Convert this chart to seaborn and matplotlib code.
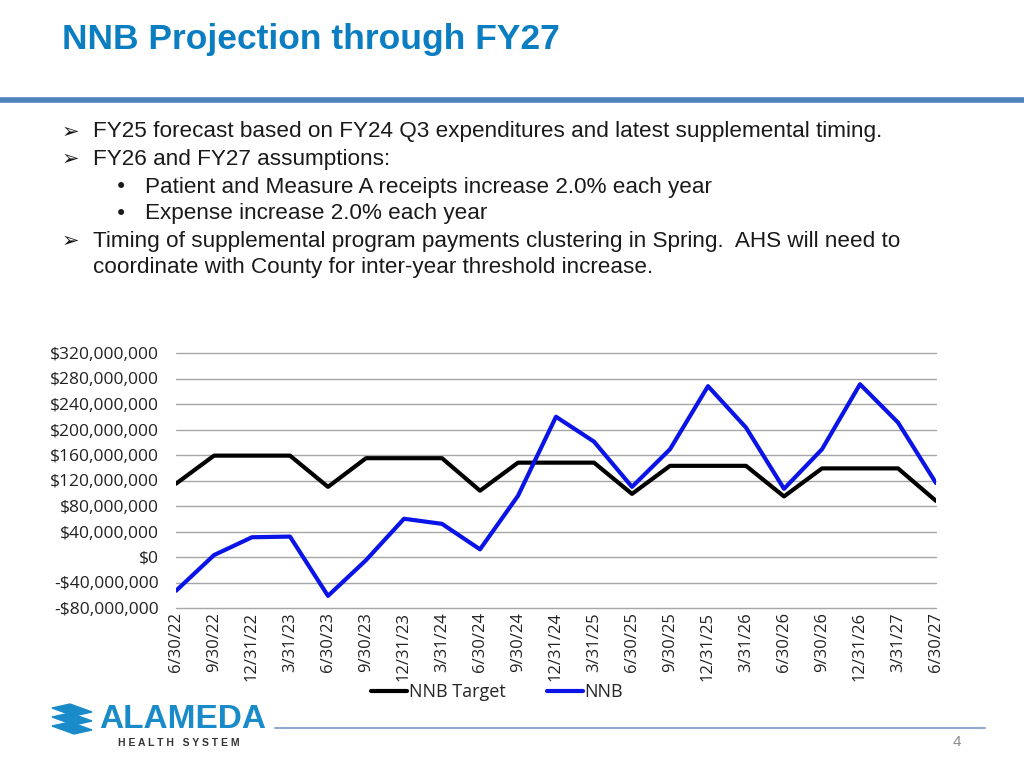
import pandas as pd
import seaborn as sns
import matplotlib.pyplot as plt
from matplotlib.ticker import FuncFormatter
from matplotlib.lines import Line2D
from matplotlib.patches import Polygon

# quarter-end dates on the x axis
dates = ["6/30/22", "9/30/22", "12/31/22", "3/31/23", "6/30/23", "9/30/23", "12/31/23",
         "3/31/24", "6/30/24", "9/30/24", "12/31/24", "3/31/25", "6/30/25", "9/30/25",
         "12/31/25", "3/31/26", "6/30/26", "9/30/26", "12/31/26", "3/31/27", "6/30/27"]

# values, in $ millions
nnb_target = [115, 159, 159, 159, 110, 155, 155, 155, 104, 148, 148, 148,
              99, 143, 143, 143, 95, 139, 139, 139, 88]
nnb = [-53, 3, 31, 32, -61, -5, 60, 52, 12, 96, 220, 181,
       110, 169, 268, 203, 107, 169, 271, 211, 116]

y_ticks = [-80, -40, 0, 40, 80, 120, 160, 200, 240, 280, 320]

df = pd.DataFrame({
    "date": dates * 2,
    "pos": list(range(len(dates))) * 2,
    "value": [v * 1e6 for v in nnb_target + nnb],
    "series": ["NNB Target"] * len(dates) + ["NNB"] * len(dates),
})

sns.set_theme(style="white")
plt.rcParams["font.family"] = ["Liberation Sans", "DejaVu Sans"]

fig = plt.figure(figsize=(10.24, 7.68), dpi=100)
fig.patch.set_facecolor("white")

# title and header rule
fig.text(62 / 1024, 1 - 39 / 768, "NNB Projection through FY27", fontsize=25.5,
         fontweight="bold", color="#0B7DC1", va="center", ha="left")
fig.add_artist(Line2D([0, 1], [1 - 100 / 768] * 2, color="#4F81BD", lw=4))

# bullet text
text_color = "#1a1a1a"
lines = [
    (62, 93, 132, "\u27A2", "FY25 forecast based on FY24 Q3 expenditures and latest supplemental timing."),
    (62, 93, 159, "\u27A2", "FY26 and FY27 assumptions:"),
    (115, 145, 187, "\u2022", "Patient and Measure A receipts increase 2.0% each year"),
    (115, 145, 214, "\u2022", "Expense increase 2.0% each year"),
    (62, 93, 241, "\u27A2", "Timing of supplemental program payments clustering in Spring.  AHS will need to"),
    (62, 93, 268, "", "coordinate with County for inter-year threshold increase."),
]
for bx, tx, y, b, t in lines:
    if b:
        fig.text(bx / 1024, 1 - y / 768, b, fontsize=15, color=text_color,
                 va="center", ha="left", family=["DejaVu Sans"])
    fig.text(tx / 1024, 1 - y / 768, t, fontsize=16.2, color=text_color,
             va="center", ha="left")

# chart
ax = fig.add_axes([176 / 1024, 1 - 608 / 768, 760 / 1024, 255 / 768])
sns.lineplot(data=df, x="pos", y="value", hue="series",
             palette={"NNB Target": "black", "NNB": "#0A14E6"},
             linewidth=3, ax=ax, legend=False, sort=False)
ax.set_xlim(0, len(dates) - 1)
ax.set_ylim(y_ticks[0] * 1e6, y_ticks[-1] * 1e6)
ax.set_yticks([v * 1e6 for v in y_ticks])
ax.yaxis.set_major_formatter(FuncFormatter(
    lambda v, p: ("-$" if v < 0 else "$") + f"{abs(v):,.0f}"))
ax.set_xticks(range(len(dates)))
ax.set_xticklabels(dates, rotation=90)
ax.tick_params(axis="both", length=0, labelsize=12.5, colors="#222222")
ax.tick_params(axis="y", pad=12)
ax.tick_params(axis="x", pad=3)
for lab in ax.get_xticklabels() + ax.get_yticklabels():
    lab.set_family(["Open Sans", "DejaVu Sans"])
for lab in ax.get_xticklabels():
    lab.set_fontsize(12)
ax.yaxis.grid(True, color="#A6A6A6", lw=1)
for gl in ax.get_ygridlines():
    gl.set_clip_on(False)
ax.xaxis.grid(False)
ax.set_xlabel("")
ax.set_ylabel("")
for s in ax.spines.values():
    s.set_visible(False)
ax.set_axisbelow(True)

handles = [Line2D([], [], color="black", lw=3), Line2D([], [], color="#0A14E6", lw=3)]
fig.legend(handles, ["NNB Target", "NNB"], loc="center", ncol=2,
           bbox_to_anchor=(497 / 1024, 1 - 692 / 768), frameon=False,
           handlelength=2.0, handletextpad=0.1, columnspacing=2.3,
           prop={"family": ["Open Sans", "DejaVu Sans"], "size": 13})

# footer: logo, rule and page number
logo_blue = "#1A8BC9"
for dy in (0, 9, 18):
    fig.add_artist(Polygon([(52 / 1024, 1 - (708 + dy) / 768), (70 / 1024, 1 - (704 + dy) / 768),
                            (92 / 1024, 1 - (712 + dy) / 768), (74 / 1024, 1 - (716 + dy) / 768)],
                           closed=True, color=logo_blue, transform=fig.transFigure))
fig.text(99 / 1024, 1 - 719 / 768, "ALAMEDA", fontsize=24, fontweight="bold",
         color=logo_blue, va="center", ha="left")
fig.text(118 / 1024, 1 - 743 / 768, "H E A L T H   S Y S T E M", fontsize=7.5,
         fontweight="bold", color="#333333", va="center", ha="left")
fig.add_artist(Line2D([275 / 1024, 985 / 1024], [1 - 728 / 768] * 2, color="#8FA9D0", lw=1.5))
fig.text(957 / 1024, 1 - 742 / 768, "4", fontsize=11, color="#8a8a8a", va="center", ha="center")

fig.savefig("out.png", dpi=100)
